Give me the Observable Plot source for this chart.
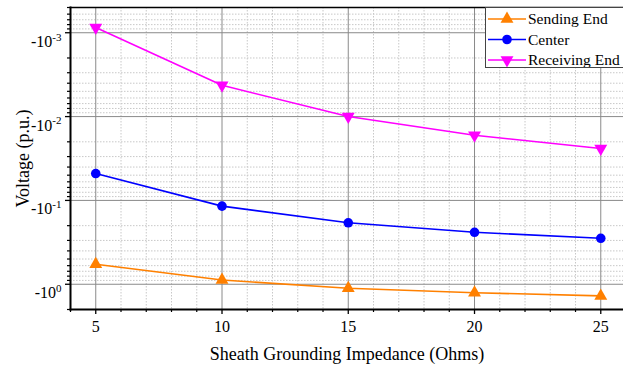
<!DOCTYPE html>
<html><head><meta charset="utf-8">
<script src="https://cdn.jsdelivr.net/npm/d3@7"></script>
<script src="https://cdn.jsdelivr.net/npm/@observablehq/plot@0.6"></script>
<style>
body{margin:0;background:#fff;}
#wrap{position:relative;width:623px;height:366px;font-family:"Liberation Serif","Tinos","Times New Roman","DejaVu Serif",serif;overflow:hidden;}
#wrap svg text{font-family:"Liberation Serif","Tinos","Times New Roman","DejaVu Serif",serif;}
#legend{position:absolute;left:485px;top:7px;width:150px;height:61px;border:1px solid #444;background:#fff;box-sizing:border-box;}
</style>
</head><body><div id="wrap"><div id="legend"></div></div>
<script>
const impedance = [5, 10, 15, 20, 25];
const sendingEnd = [-0.578, -0.889, -1.116, -1.26, -1.377];
const center = [-0.0478, -0.117, -0.185, -0.240, -0.283];
const receivingEnd = [-0.000865, -0.00424, -0.0100, -0.0167, -0.0240];
const seriesNames = ["Sending End", "Center", "Receiving End"];
const seriesColors = ["#FF8000", "#0000FF", "#FF00FF"];
const seriesSymbols = ["triangle", "circle", "triangle"];
const seriesRotate = [0, 0, 180];
const xMajorTicks = [5, 10, 15, 20, 25];
const yMajorTicks = [-1, -0.1, -0.01, -0.001];
const yTickExponents = ["0", "-1", "-2", "-3"];
const xLabel = "Sheath Grounding Impedance (Ohms)";
const yLabel = "Voltage (p.u.)";

const FONT = "'Liberation Serif','Tinos','Times New Roman','DejaVu Serif',serif";
const seriesValues = [sendingEnd, center, receivingEnd];
const rows = [];
seriesNames.forEach((s, i) => impedance.forEach((x, j) => rows.push({series: s, x, y: seriesValues[i][j], idx: i})));

const xDomain = [4, 25.9];
const yDomain = [-2, -0.0005];
const xMinor = d3.range(4, 26, 1).filter(v => !xMajorTicks.includes(v));
const yMinor = [];
[1e-4, 1e-3, 1e-2, 1e-1, 1].forEach(d => { for (let k = 2; k <= 9; k++) { const v = -k * d; if (v >= yDomain[0] && v <= yDomain[1]) yMinor.push(v); } });

const chart = Plot.plot({
  width: 623, height: 366,
  marginLeft: 70, marginRight: 0, marginTop: 7, marginBottom: 57,
  style: {fontFamily: FONT, fontSize: "15px", background: "#fff", color: "#000"},
  x: {domain: xDomain},
  y: {type: "log", domain: yDomain},
  marks: [
    Plot.gridX(xMinor, {stroke: "#c8c8c8", strokeOpacity: 1, strokeDasharray: "1.5,1.5"}),
    Plot.gridY(yMinor, {stroke: "#c8c8c8", strokeOpacity: 1, strokeDasharray: "1.5,1.5"}),
    Plot.gridX(xMajorTicks, {stroke: "#8a8a8a", strokeOpacity: 1}),
    Plot.gridY(yMajorTicks, {stroke: "#8a8a8a", strokeOpacity: 1}),
    Plot.axisX(xMajorTicks, {tickSize: 5, tickPadding: 6, tickFormat: d => String(d), label: null, fontSize: 16, strokeWidth: 1.3}),
    Plot.axisX(xMinor, {tickSize: 3, tickFormat: () => "", label: null, strokeWidth: 1.2}),
    Plot.axisX([], {label: xLabel, labelAnchor: "center", labelArrow: "none", labelOffset: 50, fontSize: 18}),
    Plot.axisY(yMajorTicks, {tickSize: 5, tickPadding: 4, tickFormat: (d) => "-10|" + yTickExponents[yMajorTicks.indexOf(d)], label: null, fontSize: 16, strokeWidth: 1.3}),
    Plot.axisY(yMinor, {tickSize: 3, tickFormat: () => "", label: null, strokeWidth: 1.2}),
    Plot.axisY([], {label: yLabel, labelAnchor: "center", labelArrow: "none", labelOffset: 54, fontSize: 18}),
    Plot.frame({anchor: "left", stroke: "#000", strokeWidth: 2}),
    Plot.frame({anchor: "bottom", stroke: "#000", strokeWidth: 2}),
    Plot.frame({anchor: "top", stroke: "#000", strokeWidth: 1.5}),
    Plot.line(rows, {x: "x", y: "y", z: "series", stroke: d => seriesColors[d.idx], strokeWidth: 1.6}),
    Plot.dot(rows, {x: "x", y: "y", fill: d => seriesColors[d.idx], stroke: null, symbol: d => seriesSymbols[d.idx], rotate: d => seriesRotate[d.idx], r: 4.8})
  ]
});
document.getElementById("wrap").prepend(chart);
chart.style.position = "absolute"; chart.style.left = "0"; chart.style.top = "0";

// superscript tick labels
d3.select(chart).selectAll('g[aria-label="y-axis tick label"] text').each(function() {
  const t = this.textContent;
  if (!t.includes("|")) return;
  const [base, exp] = t.split("|");
  const sel = d3.select(this);
  sel.text(null);
  sel.append("tspan").text(base);
  sel.append("tspan").attr("dy", "-0.55em").attr("font-size", "11px").text(exp);
  sel.attr("dy", "0.55em");
});

// legend
const lg = d3.select("#legend").append("svg").attr("width", 150).attr("height", 59)
  .style("font-family", FONT).style("font-size", "15.5px");
seriesNames.forEach((name, i) => {
  const cy = 11 + i * 20.5;
  const g = lg.append("g").attr("transform", `translate(0,${cy})`);
  g.append("line").attr("x1", 2).attr("x2", 40).attr("stroke", seriesColors[i]).attr("stroke-width", 1.6);
  g.append("path").attr("d", d3.symbol(seriesSymbols[i] === "circle" ? d3.symbolCircle : d3.symbolTriangle, Math.PI * 4.8 * 4.8)())
    .attr("transform", `translate(21,0) rotate(${seriesRotate[i]})`).attr("fill", seriesColors[i]);
  g.append("text").attr("x", 42).attr("dy", "0.35em").text(name);
});
</script>
</body></html>
